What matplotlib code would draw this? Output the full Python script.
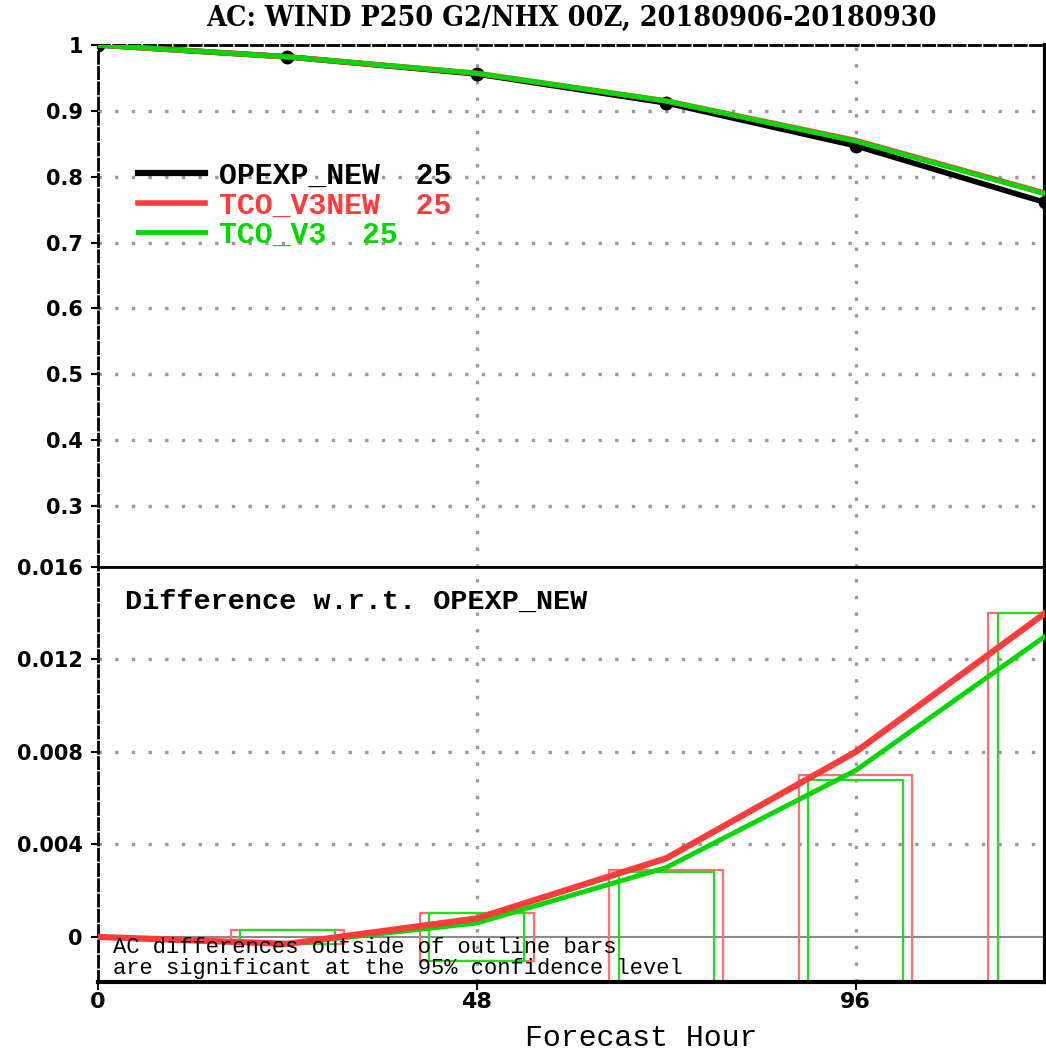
import numpy as np
import matplotlib
matplotlib.use("Agg")
import matplotlib.pyplot as plt

# =====================================================
# DATA
# =====================================================

hours = [0, 24, 48, 72, 96, 120]

ac_opexp = [1.0, 0.982, 0.956, 0.912, 0.847, 0.761]
ac_v3new = [1.0, 0.982, 0.957, 0.915, 0.855, 0.775]
ac_v3 = [1.0, 0.982, 0.957, 0.915, 0.854, 0.774]

diff_v3new = [0.0, -0.0003, 0.0008, 0.0034, 0.0080, 0.0140]
diff_v3 = [0.0, -0.0003, 0.0006, 0.0030, 0.0072, 0.0130]

# 95% confidence half widths (outline bars)
ci_v3new = [0.0, 0.0003, 0.00105, 0.0029, 0.0070, 0.0140]
ci_v3 = [0.0, 0.0003, 0.00105, 0.0028, 0.0068, 0.0140]

names = ["OPEXP_NEW  25", "TCO_V3NEW  25", "TCO_V3  25"]

title = "AC: WIND P250 G2/NHX 00Z, 20180906-20180930"

# =====================================================
# STYLE
# =====================================================

BLACK = "black"
RED = "#ff3c3c"
GREEN = "#00d800"
RED_BAR = "#ff7070"
GREEN_BAR = "#22dd22"
GRID = "#9a9a9a"
MONO = "Liberation Mono"

fig = plt.figure(figsize=(10.46, 10.52), dpi=100)

L = 98 / 1046
W = (1045 - 98) / 1046

ax1 = fig.add_axes([L, 1 - 567 / 1052, W, (567 - 45) / 1052])
ax2 = fig.add_axes([L, 1 - 982 / 1052, W, (982 - 567) / 1052])


def style_axes(ax):
    for s in ["left", "top", "right", "bottom"]:
        ax.spines[s].set_color("black")
    ax.spines["left"].set_linestyle((0, (4, 1.5)))
    ax.spines["left"].set_linewidth(2)
    ax.spines["right"].set_linewidth(3)
    ax.tick_params(axis="y", direction="out", length=5, width=1.5,
                   pad=6, labelsize=15)
    ax.set_xlim(0, 120)


# =====================================================
# TOP PANEL
# =====================================================

ax1.set_ylim(0.2074, 1.0)
ax1.set_yticks([0.3, 0.4, 0.5, 0.6, 0.7, 0.8, 0.9, 1.0])
ax1.set_yticklabels(["0.3", "0.4", "0.5", "0.6", "0.7", "0.8", "0.9", "1"],
                    fontweight="bold")
style_axes(ax1)
ax1.set_xticks([])
ax1.spines["top"].set_linestyle((0, (4, 1.5)))
ax1.spines["top"].set_linewidth(2)
ax1.spines["bottom"].set_linewidth(2)

for y in [0.3, 0.4, 0.5, 0.6, 0.7, 0.8, 0.9]:
    ax1.axhline(y, color=GRID, lw=2.4, ls=(0, (1, 4)), zorder=1)
for x in [48, 96]:
    ax1.axvline(x, color=GRID, lw=2.4, ls=(0, (1, 4)), zorder=1)

ax1.plot(hours, ac_opexp, color=BLACK, lw=4, marker="o", ms=9,
         label=names[0], zorder=3)
ax1.plot(hours, ac_v3new, color=RED, lw=4, label=names[1], zorder=4)
ax1.plot(hours, ac_v3, color=GREEN, lw=3.5, label=names[2], zorder=5)

handles, labels = ax1.get_legend_handles_labels()
handles[0] = plt.Line2D([], [], color=BLACK, lw=4.5)
leg = ax1.legend(
    handles, labels,
    loc="upper left",
    bbox_to_anchor=(0.042, 0.776),
    frameon=False,
    handlelength=2.25,
    handletextpad=0.48,
    labelspacing=0.05,
    borderpad=0,
    borderaxespad=0,
    prop={"family": MONO, "weight": "bold", "size": 21.5},
)
for txt, c in zip(leg.get_texts(), [BLACK, RED, GREEN]):
    txt.set_color(c)

fig.text(571 / 1046, 1 - 18 / 1052, title, ha="center", va="center",
         fontsize=20.5, fontweight="bold", family="DejaVu Serif",
         fontstretch="condensed")

# =====================================================
# BOTTOM PANEL
# =====================================================

ax2.set_ylim(-0.00195, 0.016)
ax2.set_yticks([0, 0.004, 0.008, 0.012, 0.016])
ax2.set_yticklabels(["0", "0.004", "0.008", "0.012", "0.016"],
                    fontweight="bold")
style_axes(ax2)
ax2.spines["top"].set_linewidth(2)
ax2.spines["bottom"].set_linewidth(3)

ax2.set_xticks([0, 48, 96])
ax2.set_xticklabels(["0", "48", "96"], fontweight="bold")
ax2.tick_params(axis="x", direction="out", length=6, width=1.5,
                pad=1, labelsize=16)

for y in [0.004, 0.008, 0.012]:
    ax2.axhline(y, color=GRID, lw=2.4, ls=(0, (1, 4)), zorder=1)
for x in [48, 96]:
    ax2.axvline(x, color=GRID, lw=2.4, ls=(0, (1, 4)), zorder=1)
ax2.axhline(0, color="#8a8a8a", lw=1.5, zorder=1)

bar_h = hours[1:]
ax2.bar(bar_h, [2 * c for c in ci_v3new[1:]],
        bottom=[-c for c in ci_v3new[1:]],
        width=14.4, fill=False, edgecolor=RED_BAR, lw=1.6, zorder=2)
ax2.bar(bar_h, [2 * c for c in ci_v3[1:]],
        bottom=[-c for c in ci_v3[1:]],
        width=12.0, fill=False, edgecolor=GREEN_BAR, lw=1.6, zorder=2)

ax2.plot(hours, diff_v3new, color=RED, lw=4.5, zorder=4)
ax2.plot(hours, diff_v3, color=GREEN, lw=3.5, zorder=3)

ax2.text(0.028, 0.915, "Difference w.r.t. OPEXP_NEW",
         transform=ax2.transAxes, ha="left", va="center",
         family=MONO, fontweight="bold", fontsize=20.5)

ax2.text(0.016, 0.058,
         "AC differences outside of outline bars\n"
         "are significant at the 95% confidence level",
         transform=ax2.transAxes, ha="left", va="center",
         family=MONO, fontsize=15.9, linespacing=0.95, zorder=6)

fig.text(641 / 1046, 1 - 1038 / 1052, "Forecast Hour", ha="center",
         va="center", family=MONO, fontsize=21.5)

plt.savefig("out.png", dpi=100)
